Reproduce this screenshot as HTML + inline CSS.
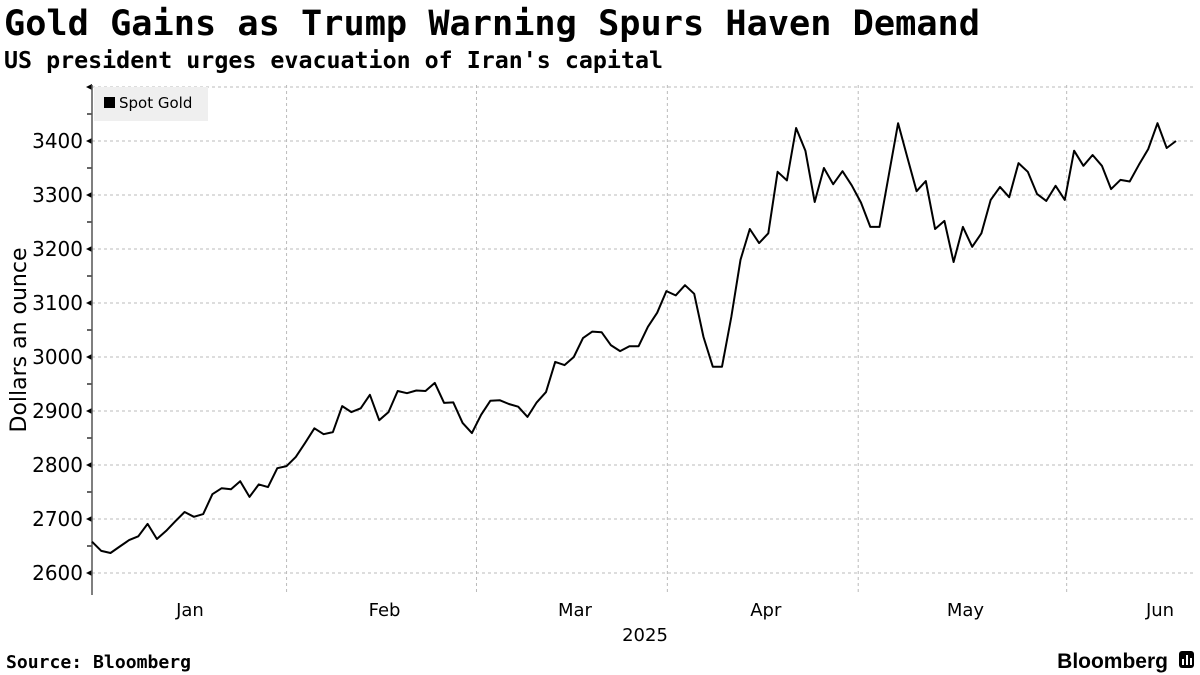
<!DOCTYPE html>
<html><head><meta charset="utf-8"><style>
html,body{margin:0;padding:0;background:#fff;}
svg{display:block;}
.t{font-family:"DejaVu Sans","Liberation Sans",sans-serif;fill:#000;}
.m{font-family:"DejaVu Sans Mono","Liberation Mono",monospace;font-weight:bold;fill:#000;}
</style></head><body>
<svg id="chart" width="1200" height="675" xmlns="http://www.w3.org/2000/svg">
<text class="m" x="4" y="35" font-size="35" textLength="976" lengthAdjust="spacingAndGlyphs">Gold Gains as Trump Warning Spurs Haven Demand</text>
<text class="m" x="4" y="68" font-size="23" textLength="659" lengthAdjust="spacingAndGlyphs">US president urges evacuation of Iran's capital</text>
<g id="grid"></g>
<g id="axes"></g>
<rect x="94" y="87" width="114" height="34" fill="#efefef"/>
<rect x="104" y="97" width="11" height="11" fill="#000"/>
<text class="t" x="119" y="108" font-size="15">Spot Gold</text>
<path id="line" fill="none" stroke="#000" stroke-width="2" stroke-linejoin="round"/>
<text class="t" x="26" y="340" font-size="22" transform="rotate(-90 26 340)" text-anchor="middle">Dollars an ounce</text>
<text class="t" x="645" y="641" font-size="18" text-anchor="middle">2025</text>
<text class="m" x="6" y="668" font-size="17.5" textLength="185" lengthAdjust="spacingAndGlyphs">Source: Bloomberg</text>
<text x="1168" y="668" font-family="'Liberation Sans',sans-serif" font-weight="bold" font-size="21" text-anchor="end">Bloomberg</text>
<g><rect x="1179" y="651" width="15" height="17" rx="3" fill="#000"/><rect x="1182" y="659" width="2" height="6" fill="#fff"/><rect x="1186" y="655" width="2" height="10" fill="#fff"/><rect x="1190" y="658" width="2" height="7" fill="#fff"/></g>
</svg>
<script>
const values=[2658,2641,2637,2649,2661,2668,2691,2663,2678,2696,2713,2704,2709,2746,2757,2755,2770,2741,2764,2759,2794,2798,2815,2841,2868,2857,2861,2909,2898,2905,2930,2883,2898,2937,2933,2938,2937,2952,2915,2916,2878,2859,
2893,2919,2920,2913,2908,2889,2916,2935,2991,2985,3000,3035,3047,3046,3022,3011,3020,3020,3056,3082,3122,3114,3133,3117,3037,2982,2982,3074,3180,3237,3211,3229,3343,3327,
3424,3382,3287,3350,3320,3344,3318,3286,3241,3241,3337,3433,3370,3307,3326,3237,3252,3176,3241,3204,3229,3291,3315,3296,3359,3343,3302,3289,3317,3291,3382,3354,3374,3354,3311,3328,3325,3356,3385,3433,3387,3400];
const monthLabels=["Jan","Feb","Mar","Apr","May","Jun"];
const monthStarts=[-0.5,21,41.5,62.1,82.7,105.2,127];
const yTicks=[2600,2700,2800,2900,3000,3100,3200,3300,3400,3500];
const NS="http://www.w3.org/2000/svg";
const x0=92,x1=1176,n=values.length;
const X=i=>x0+i*(x1-x0)/(n-1);
const Y=v=>573-(v-2600)*0.54;
const yTop=85,yBot=595,xRight=1196;
const grid=document.getElementById('grid'),axes=document.getElementById('axes');
function mk(tag,attrs,parent){const e=document.createElementNS(NS,tag);for(const k in attrs)e.setAttribute(k,attrs[k]);parent.appendChild(e);return e;}
yTicks.forEach(v=>{
  const y=Y(v);
  const g=mk('line',{x1:x0,x2:xRight,y1:y,y2:y,stroke:'#bbb','stroke-dasharray':'3,3','stroke-width':1},grid);
  
  
  const tk=mk('path',{d:`M${x0-6} ${y} L${x0} ${y-3} L${x0} ${y+3}Z`,fill:'#000'},axes);
  
  
  const my=Y(v-50);
  if(my<yBot){const mt=mk('line',{x1:x0-5,x2:x0,y1:my,y2:my,stroke:'#000','stroke-width':1.2},axes);
  
  }
  if(v<3500){const t=mk('text',{x:x0-9,y:y+7,'font-size':20,'text-anchor':'end',class:'t'},axes);t.textContent=v;
  
  }
});
monthStarts.forEach((s,k)=>{
  if(k>0&&k<monthStarts.length-1){const x=X(s);
    const g=mk('line',{x1:x,x2:x,y1:yTop,y2:yBot,stroke:'#bbb','stroke-dasharray':'3,3','stroke-width':1},grid);
    
    }
  if(k<monthLabels.length){
    const cx=(X(Math.max(s,-0.5))+Math.min(X(monthStarts[k+1]),1250))/2;
    const t=mk('text',{x:k==5?1160:cx+3,y:616,'font-size':18,'text-anchor':'middle',class:'t'},axes);t.textContent=monthLabels[k];
    
    }
});
const ax=mk('line',{x1:x0,x2:x0,y1:yTop,y2:yBot,stroke:'#555','stroke-width':1.5},axes);


document.getElementById('line').setAttribute('d',values.map((v,i)=>(i?'L':'M')+X(i).toFixed(1)+' '+Y(v).toFixed(1)).join(' '));
</script>
</body></html>
